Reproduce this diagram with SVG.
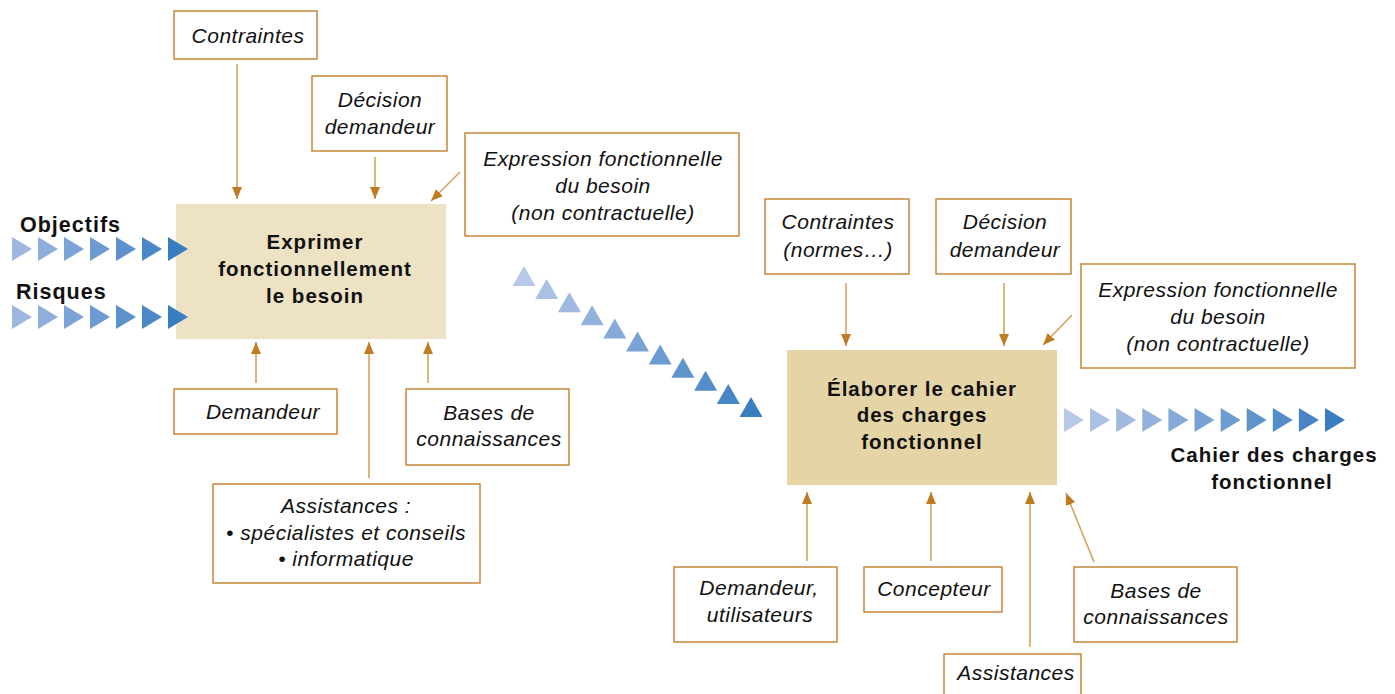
<svg xmlns="http://www.w3.org/2000/svg" width="1395" height="694" viewBox="0 0 1395 694">
  <style>
    .lbl { fill: #ffffff; stroke: #C8873A; stroke-width: 1.5; }
    .t { font-family: "Liberation Sans", Arial, sans-serif; font-style: italic; font-size: 21px; letter-spacing: 0.5px; fill: #111111; text-anchor: middle; }
    .b { font-family: "Liberation Sans", Arial, sans-serif; font-weight: bold; font-size: 20.5px; letter-spacing: 1px; fill: #111111; text-anchor: middle; }
    .bl { text-anchor: start; font-size: 21.5px; }
    .link { stroke: #D6A260; stroke-width: 1.6; fill: none; marker-end: url(#head); }
  </style>
  <defs>
    <marker id="head" markerUnits="userSpaceOnUse" markerWidth="12" markerHeight="10" refX="12" refY="5" orient="auto">
      <path d="M0,0 L12,5 L0,10 Z" fill="#C07A20"/>
    </marker>
    <path id="tr" d="M0,-12 L20,0 L0,12 Z"/>
    <path id="tu" d="M0,0 L11.5,20 L-11.5,20 Z"/>
  </defs>

  <rect width="1395" height="694" fill="#ffffff"/>

  <!-- activity 1 -->
  <g id="act-exprimer">
    <rect x="176" y="204" width="270" height="135" fill="#EDE2C4"/>
    <text class="b" x="315" y="249">Exprimer</text>
    <text class="b" x="315" y="276">fonctionnellement</text>
    <text class="b" x="315" y="303">le besoin</text>
  </g>

  <!-- activity 2 -->
  <g id="act-elaborer">
    <rect x="787" y="350" width="270" height="135" fill="#E5D4A6"/>
    <text class="b" x="922" y="396">Élaborer le cahier</text>
    <text class="b" x="922" y="422">des charges</text>
    <text class="b" x="922" y="449">fonctionnel</text>
  </g>

  <!-- flow chevrons: inputs, transfer, output -->
  <g id="flow-objectifs">
    <use href="#tr" x="12" y="249" fill="#9FB7E0"/>
    <use href="#tr" x="38" y="249" fill="#8EAEDB"/>
    <use href="#tr" x="64" y="249" fill="#7DA4D6"/>
    <use href="#tr" x="90" y="249" fill="#6D9BD1"/>
    <use href="#tr" x="116" y="249" fill="#5C91CC"/>
    <use href="#tr" x="142" y="249" fill="#4B88C7"/>
    <use href="#tr" x="168" y="249" fill="#3A7EC2"/>
  </g>
  <g id="flow-risques">
    <use href="#tr" x="12" y="317" fill="#9FB7E0"/>
    <use href="#tr" x="38" y="317" fill="#8EAEDB"/>
    <use href="#tr" x="64" y="317" fill="#7DA4D6"/>
    <use href="#tr" x="90" y="317" fill="#6D9BD1"/>
    <use href="#tr" x="116" y="317" fill="#5C91CC"/>
    <use href="#tr" x="142" y="317" fill="#4B88C7"/>
    <use href="#tr" x="168" y="317" fill="#3A7EC2"/>
  </g>
  <g id="flow-transfer">
    <use href="#tu" x="524" y="266" fill="#B8C8E8"/>
    <use href="#tu" x="546.7" y="279.1" fill="#ABC1E4"/>
    <use href="#tu" x="569.4" y="292.2" fill="#9FB9E0"/>
    <use href="#tu" x="592.1" y="305.3" fill="#92B2DD"/>
    <use href="#tu" x="614.8" y="318.4" fill="#86AAD9"/>
    <use href="#tu" x="637.5" y="331.5" fill="#79A3D5"/>
    <use href="#tu" x="660.2" y="344.6" fill="#6C9CD1"/>
    <use href="#tu" x="682.9" y="357.7" fill="#6094CD"/>
    <use href="#tu" x="705.6" y="370.8" fill="#538DCA"/>
    <use href="#tu" x="728.3" y="383.9" fill="#4785C6"/>
    <use href="#tu" x="751" y="397" fill="#3A7EC2"/>
  </g>
  <g id="flow-output">
    <use href="#tr" x="1064" y="420" fill="#B8C8E8"/>
    <use href="#tr" x="1090.1" y="420" fill="#ABC1E4"/>
    <use href="#tr" x="1116.2" y="420" fill="#9FB9E0"/>
    <use href="#tr" x="1142.3" y="420" fill="#92B2DD"/>
    <use href="#tr" x="1168.4" y="420" fill="#86AAD9"/>
    <use href="#tr" x="1194.5" y="420" fill="#79A3D5"/>
    <use href="#tr" x="1220.6" y="420" fill="#6C9CD1"/>
    <use href="#tr" x="1246.7" y="420" fill="#6094CD"/>
    <use href="#tr" x="1272.8" y="420" fill="#538DCA"/>
    <use href="#tr" x="1298.9" y="420" fill="#4785C6"/>
    <use href="#tr" x="1325" y="420" fill="#3A7EC2"/>
  </g>

  <!-- flow labels -->
  <g id="label-objectifs"><text class="b bl" x="20" y="232">Objectifs</text></g>
  <g id="label-risques"><text class="b bl" x="16" y="299">Risques</text></g>
  <g id="label-cdcf">
    <text class="b" x="1274" y="462">Cahier des charges</text>
    <text class="b" x="1272" y="489">fonctionnel</text>
  </g>

  <!-- controls and resources of activity 1 -->
  <g id="n-contraintes-1">
    <rect class="lbl" x="174" y="11" width="143" height="48"/>
    <text class="t" x="248" y="43">Contraintes</text>
  </g>
  <g id="n-decision-1">
    <rect class="lbl" x="312" y="76" width="135" height="75"/>
    <text class="t" x="380" y="107">Décision</text>
    <text class="t" x="380" y="134">demandeur</text>
  </g>
  <g id="n-expression-1">
    <rect class="lbl" x="465" y="133" width="274" height="103"/>
    <text class="t" x="603" y="166">Expression fonctionnelle</text>
    <text class="t" x="603" y="193">du besoin</text>
    <text class="t" x="603" y="220">(non contractuelle)</text>
  </g>
  <g id="n-demandeur-1">
    <rect class="lbl" x="174" y="389" width="163" height="45"/>
    <text class="t" x="263" y="419">Demandeur</text>
  </g>
  <g id="n-bases-1">
    <rect class="lbl" x="406" y="389" width="163" height="76"/>
    <text class="t" x="489" y="420">Bases de</text>
    <text class="t" x="489" y="446">connaissances</text>
  </g>
  <g id="n-assistances-1">
    <rect class="lbl" x="213" y="484" width="267" height="99"/>
    <text class="t" x="346" y="513">Assistances :</text>
    <text class="t" x="346" y="540">• spécialistes et conseils</text>
    <text class="t" x="346" y="566">• informatique</text>
  </g>

  <!-- controls and resources of activity 2 -->
  <g id="n-contraintes-2">
    <rect class="lbl" x="765" y="199" width="144" height="75"/>
    <text class="t" x="838" y="229">Contraintes</text>
    <text class="t" x="838" y="257">(normes…)</text>
  </g>
  <g id="n-decision-2">
    <rect class="lbl" x="936" y="199" width="135" height="75"/>
    <text class="t" x="1005" y="229">Décision</text>
    <text class="t" x="1005" y="257">demandeur</text>
  </g>
  <g id="n-expression-2">
    <rect class="lbl" x="1081" y="264" width="274" height="104"/>
    <text class="t" x="1218" y="297">Expression fonctionnelle</text>
    <text class="t" x="1218" y="324">du besoin</text>
    <text class="t" x="1218" y="351">(non contractuelle)</text>
  </g>
  <g id="n-demandeur-2">
    <rect class="lbl" x="674" y="567" width="163" height="75"/>
    <text class="t" x="759" y="595">Demandeur,</text>
    <text class="t" x="760" y="622">utilisateurs</text>
  </g>
  <g id="n-concepteur">
    <rect class="lbl" x="864" y="567" width="138" height="45"/>
    <text class="t" x="934" y="596">Concepteur</text>
  </g>
  <g id="n-assistances-2">
    <rect class="lbl" x="944" y="654" width="137" height="50"/>
    <text class="t" x="1016" y="680">Assistances</text>
  </g>
  <g id="n-bases-2">
    <rect class="lbl" x="1074" y="567" width="163" height="75"/>
    <text class="t" x="1156" y="598">Bases de</text>
    <text class="t" x="1156" y="624">connaissances</text>
  </g>

  <!-- connectors -->
  <g id="connectors">
    <line class="link" x1="237" y1="64" x2="237" y2="199"/>
    <line class="link" x1="375" y1="157" x2="375" y2="199"/>
    <line class="link" x1="460" y1="172" x2="431" y2="201"/>
    <line class="link" x1="256" y1="383" x2="256" y2="342"/>
    <line class="link" x1="369" y1="478" x2="369" y2="342"/>
    <line class="link" x1="428" y1="383" x2="428" y2="342"/>

    <line class="link" x1="846" y1="283" x2="846" y2="346"/>
    <line class="link" x1="1004" y1="283" x2="1004" y2="346"/>
    <line class="link" x1="1072" y1="315" x2="1043" y2="345"/>
    <line class="link" x1="807" y1="561" x2="807" y2="492"/>
    <line class="link" x1="931" y1="561" x2="931" y2="492"/>
    <line class="link" x1="1030" y1="647" x2="1030" y2="492"/>
    <line class="link" x1="1094" y1="562" x2="1066" y2="493"/>
  </g>
</svg>
